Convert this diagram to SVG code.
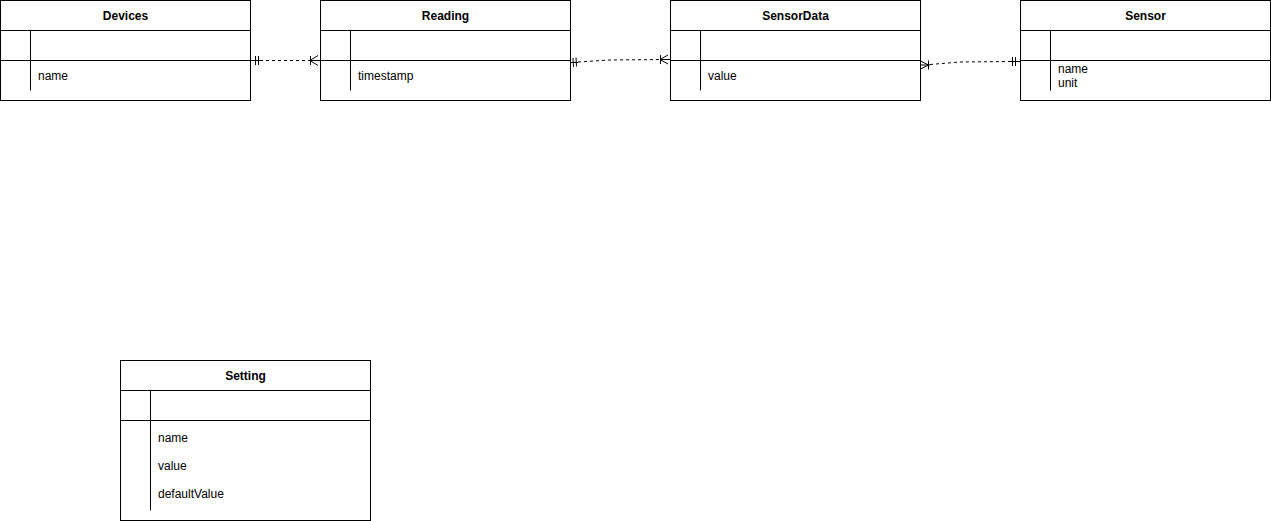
<svg xmlns="http://www.w3.org/2000/svg" width="1271" height="521" viewBox="0 0 1271 521">
  <style>
    .box { fill: #ffffff; stroke: #000000; stroke-width: 1; }
    .sep { fill: none; stroke: #000000; stroke-width: 1; }
    .title { font-family: "Liberation Sans", Arial, sans-serif; font-size: 12px; font-weight: bold; fill: #000000; text-anchor: middle; }
    .field { font-family: "Liberation Sans", Arial, sans-serif; font-size: 12px; fill: #000000; }
    .edge { fill: none; stroke: #000000; stroke-width: 1; stroke-dasharray: 3 3; }
    .mark { fill: none; stroke: #000000; stroke-width: 1; }
  </style>

  <!-- Devices -->
  <g id="devices">
    <rect class="box" x="0.5" y="0.5" width="250" height="100"/>
    <path class="sep" d="M0.5 30.5 H250.5 M0.5 60.5 H250.5 M30.5 30.5 V90.5"/>
    <text class="title" x="125.5" y="20">Devices</text>
    <text class="field" x="38" y="79.5">name</text>
  </g>

  <!-- Reading -->
  <g id="reading">
    <rect class="box" x="320.5" y="0.5" width="250" height="100"/>
    <path class="sep" d="M320.5 30.5 H570.5 M320.5 60.5 H570.5 M350.5 30.5 V90.5"/>
    <text class="title" x="445.5" y="20">Reading</text>
    <text class="field" x="358" y="79.5">timestamp</text>
  </g>

  <!-- SensorData -->
  <g id="sensordata">
    <rect class="box" x="670.5" y="0.5" width="250" height="100"/>
    <path class="sep" d="M670.5 30.5 H920.5 M670.5 60.5 H920.5 M700.5 30.5 V90.5"/>
    <text class="title" x="795.5" y="20">SensorData</text>
    <text class="field" x="708" y="79.5">value</text>
  </g>

  <!-- Sensor -->
  <g id="sensor">
    <rect class="box" x="1020.5" y="0.5" width="250" height="100"/>
    <path class="sep" d="M1020.5 30.5 H1270.5 M1020.5 60.5 H1270.5 M1050.5 30.5 V90.5"/>
    <text class="title" x="1145.5" y="20">Sensor</text>
    <text class="field" x="1058" y="73">name</text>
    <text class="field" x="1058" y="87">unit</text>
  </g>

  <!-- Setting -->
  <g id="setting">
    <rect class="box" x="120.5" y="360.5" width="250" height="160"/>
    <path class="sep" d="M120.5 390.5 H370.5 M120.5 420.5 H370.5 M150.5 390.5 V510.5"/>
    <text class="title" x="245.5" y="380">Setting</text>
    <text class="field" x="158" y="442">name</text>
    <text class="field" x="158" y="470">value</text>
    <text class="field" x="158" y="498">defaultValue</text>
  </g>

  <!-- Relationships -->
  <g id="connectors">
    <!-- Devices (one) to Reading (many) -->
    <g id="devices-reading">
      <path class="mark" d="M250.5 60.5 H260"/>
      <path class="edge" d="M260 60.5 H310"/>
      <path class="mark" d="M255.5 56 V65 M258.5 56 V65"/>
      <path class="mark" d="M310 60.5 H320.5 M310.5 56 V65 M310 60.5 L318 55.5 M310 60.5 L318 65.5"/>
    </g>
    <!-- Reading (one) to SensorData (many) -->
    <g id="reading-sensordata">
      <path class="mark" d="M570.5 62.5 H578"/>
      <path class="edge" d="M578 62 L610 60 L660 59.5"/>
      <path class="mark" d="M573 58 L573.5 67 M576 57.5 L576.5 66.5"/>
      <path class="mark" d="M660 59.5 H670.5 M660.5 55 V64 M660 59.5 L668 55 M660 59.5 L668 64"/>
    </g>
    <!-- SensorData (many) to Sensor (one) -->
    <g id="sensordata-sensor">
      <path class="mark" d="M920.5 65 H930 M928.5 60.5 V69.5 M928.5 65 L920.5 61 M928.5 65 L920.5 69"/>
      <path class="edge" d="M930 64.5 L960 62 L1010 61.5"/>
      <path class="mark" d="M1010 61.5 H1020.5 M1012.5 57 V66 M1015.5 57 V66"/>
    </g>
  </g>
</svg>
